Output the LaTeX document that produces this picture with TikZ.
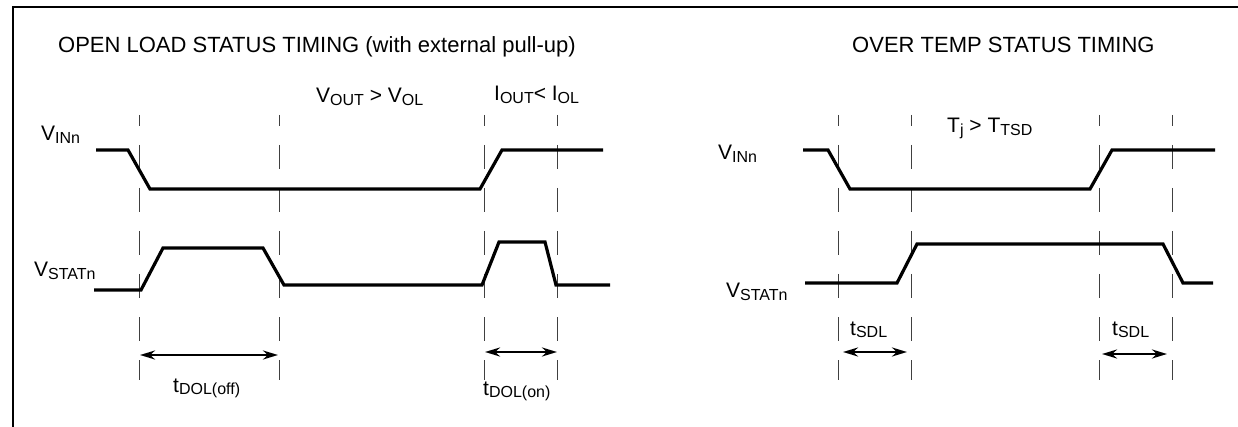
\documentclass[tikz,border=0pt]{standalone}
\usepackage{fontspec}
\setmainfont{Liberation Sans}
\usetikzlibrary{arrows.meta}
\newcommand{\sbs}[1]{\raisebox{-2.5pt}{\fontsize{16}{19}\selectfont #1}}
\tikzset{
>={Stealth[length=15pt,width=9pt]}, % filled arrow heads for the time spans
signal/.style={line width=3.2pt}, % the thick waveforms
guide/.style={line width=0.8pt, black!75, dash pattern=on 24pt off 19pt, dash phase=13pt}, % thin dashed time marks
title/.style={font=\fontsize{22}{26}\selectfont, inner sep=0pt, anchor=base west},
lbl/.style={font=\fontsize{21}{25}\selectfont, inner sep=0pt, anchor=base west},
span/.style={<->, line width=2.4pt},
}

\begin{document}
\begin{tikzpicture}[x=1pt, y=-1pt]
            \useasboundingbox (0,0) rectangle (1238,427);
            \draw[line width=2.8pt] (13,428) -- (13,7) -- (1239,7);

            % titles
            \node[title] (t1) at (58,53) {OPEN LOAD STATUS TIMING (with external pull-up)};
            \node[title] (t2) at (852,53) {OVER TEMP STATUS TIMING};

            % dashed time marks
            \foreach \x in {139,279,484,557,838,911,1099,1172}
                \draw[guide] (\x,115) -- (\x,380);

            % open load
            \node[lbl] (vout) at (316,103) {V\sbs{OUT} > V\sbs{OL}};
            \node[lbl] (iout) at (494,101) {I\sbs{OUT}< I\sbs{OL}};
            \node[lbl] (vin1) at (41,141) {V\sbs{INn}};
            \node[lbl] (vst1) at (34,277) {V\sbs{STATn}};
            \draw[signal] (96,150) -- (128,150) -- (150,189) -- (480,189) -- (502,150) -- (603,150);
            \draw[signal] (94,290) -- (141,290) -- (163,248) -- (263,248) -- (284,285)
                -- (482,285) -- (499,242) -- (545,242) -- (556,285) -- (610,285);
            \coordinate (off1) at (140,355);
            \coordinate (off2) at (278,355);
            \coordinate (on1) at (485,352);
            \coordinate (on2) at (557,352);
            \draw[span] (off1) -- (off2);
            \draw[span] (on1) -- (on2);
            \node[lbl] (toff) at (173,392) {t\sbs{DOL(off)}};
            \node[lbl] (ton) at (483,395) {t\sbs{DOL(on)}};

            % over temp
            \node[lbl] (tj) at (947,133) {T\sbs{j} > T\sbs{TSD}};
            \node[lbl] (vin2) at (718,160) {V\sbs{INn}};
            \node[lbl] (vst2) at (726,298) {V\sbs{STATn}};
            \draw[signal] (803,150) -- (828,150) -- (850,189) -- (1090,189) -- (1112,150) -- (1215,150);
            \draw[signal] (805,283) -- (897,283) -- (917,244) -- (1163,244) -- (1183,283) -- (1213,283);
            \coordinate (sd1) at (843,352);
            \coordinate (sd2) at (907,352);
            \coordinate (sd3) at (1102,354);
            \coordinate (sd4) at (1167,354);
            \draw[span] (sd1) -- (sd2);
            \draw[span] (sd3) -- (sd4);
            \node[lbl] (ts1) at (850,335) {t\sbs{SDL}};
            \node[lbl] (ts2) at (1112,335) {t\sbs{SDL}};
\end{tikzpicture}
\end{document}
